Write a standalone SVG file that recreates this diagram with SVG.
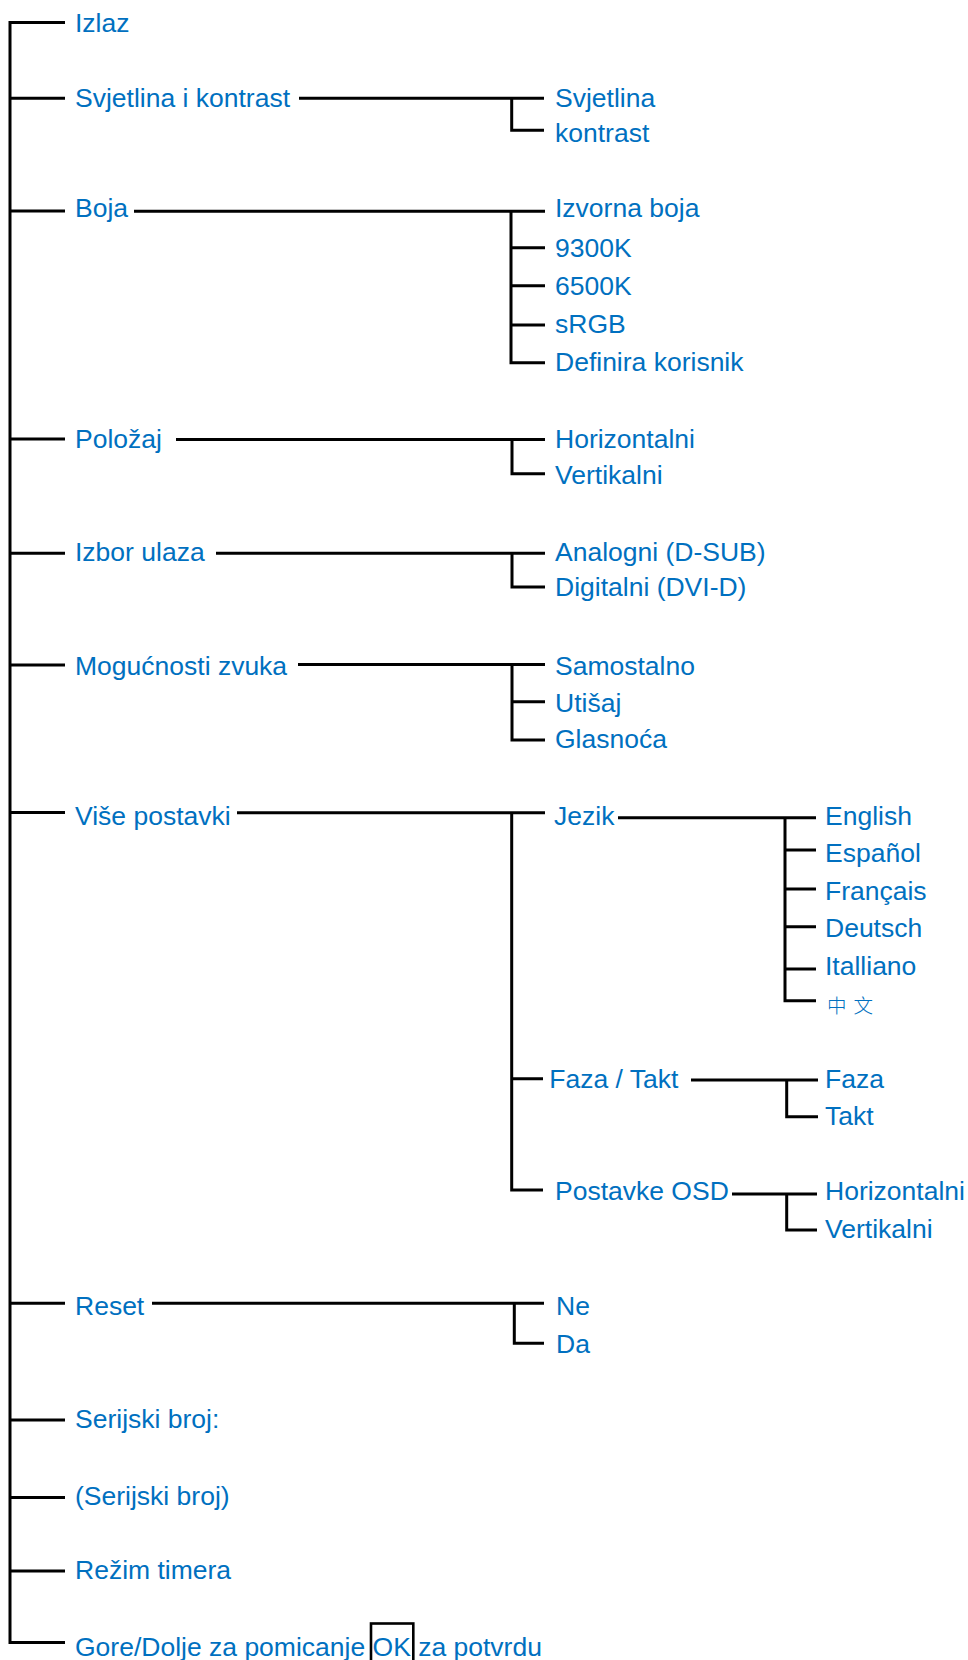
<svg xmlns="http://www.w3.org/2000/svg" width="968" height="1660" viewBox="0 0 968 1660">
<style>
.c{fill:none;stroke:#000;stroke-width:3;stroke-linejoin:miter;stroke-linecap:butt}
text{font-family:"Liberation Sans",Arial,sans-serif;font-size:26.5px;fill:#0070C0}
.cjk{font-family:"Noto Sans CJK SC",sans-serif;font-size:19.5px;letter-spacing:7px;font-weight:300}
</style>
<rect width="968" height="1660" fill="#fff"/>
<g id="connectors">
<path class="c" d="M65,22.5 H10 V1642.5 H65"/>
<path class="c" d="M10,98.3 H65 M10,211 H65 M10,439 H65 M10,553.3 H65 M10,665 H65 M10,812.5 H65 M10,1303.3 H65 M10,1420 H65 M10,1497.5 H65 M10,1571 H65"/>
<path class="c" d="M299,98.3 H544 M511.7,98.3 V130.3 H544"/>
<path class="c" d="M134,211.3 H545 M511,211.3 V362.7 H545 M511,247.7 H545 M511,285.7 H545 M511,325 H545"/>
<path class="c" d="M176,439.5 H545 M512,439.5 V473.7 H545"/>
<path class="c" d="M216,553.3 H545 M512,553.3 V587 H545"/>
<path class="c" d="M298,664.5 H545 M512,664.5 V740 H545 M512,701.7 H545"/>
<path class="c" d="M237,812.8 H545 M511.7,812.8 V1190 H543 M511.7,1078.7 H543"/>
<path class="c" d="M618,817.7 H816 M785,817.7 V1000.7 H816 M785,850 H816 M785,889 H816 M785,926.7 H816 M785,969 H816"/>
<path class="c" d="M691,1080 H818 M786.7,1080 V1116.7 H818"/>
<path class="c" d="M732,1194 H817 M786.7,1194 V1230 H817"/>
<path class="c" d="M152,1303.3 H544 M514.3,1303.3 V1343.3 H544"/>
</g>
<g id="n-izlaz"><text x="75" y="32">Izlaz</text></g>
<g id="n-svjetlina-kontrast"><text x="75" y="107">Svjetlina i kontrast</text></g>
<g id="n-svjetlina"><text x="555" y="106.7">Svjetlina</text></g>
<g id="n-kontrast"><text x="555" y="142">kontrast</text></g>
<g id="n-boja"><text x="75" y="217">Boja</text></g>
<g id="n-izvorna"><text x="555" y="216.5">Izvorna boja</text></g>
<g id="n-9300"><text x="555" y="256.7">9300K</text></g>
<g id="n-6500"><text x="555" y="295">6500K</text></g>
<g id="n-srgb"><text x="555" y="333.3">sRGB</text></g>
<g id="n-definira"><text x="555" y="370.7">Definira korisnik</text></g>
<g id="n-polozaj"><text x="75" y="448.3">Položaj</text></g>
<g id="n-horiz1"><text x="555" y="448.3">Horizontalni</text></g>
<g id="n-vert1"><text x="555" y="484">Vertikalni</text></g>
<g id="n-izbor"><text x="75" y="561">Izbor ulaza</text></g>
<g id="n-analogni"><text x="555" y="560.5">Analogni (D-SUB)</text></g>
<g id="n-digitalni"><text x="555" y="595.7">Digitalni (DVI-D)</text></g>
<g id="n-mogucnosti"><text x="75" y="675">Mogućnosti zvuka</text></g>
<g id="n-samostalno"><text x="555" y="675">Samostalno</text></g>
<g id="n-utisaj"><text x="555" y="711.7">Utišaj</text></g>
<g id="n-glasnoca"><text x="555" y="748.3">Glasnoća</text></g>
<g id="n-vise"><text x="75" y="825">Više postavki</text></g>
<g id="n-jezik"><text x="554" y="825">Jezik</text></g>
<g id="n-english"><text x="825" y="825">English</text></g>
<g id="n-espanol"><text x="825" y="861.7">Español</text></g>
<g id="n-francais"><text x="825" y="900">Français</text></g>
<g id="n-deutsch"><text x="825" y="936.7">Deutsch</text></g>
<g id="n-italliano"><text x="825" y="975">Italliano</text></g>
<g id="n-chinese"><text class="cjk" x="827" y="1013">中文</text></g>
<g id="n-fazatakt"><text x="549.3" y="1088.3">Faza / Takt</text></g>
<g id="n-faza"><text x="825" y="1088.3">Faza</text></g>
<g id="n-takt"><text x="825" y="1125">Takt</text></g>
<g id="n-osd"><text x="555" y="1200">Postavke OSD</text></g>
<g id="n-horiz2"><text x="825" y="1200">Horizontalni</text></g>
<g id="n-vert2"><text x="825" y="1238.3">Vertikalni</text></g>
<g id="n-reset"><text x="75" y="1315">Reset</text></g>
<g id="n-ne"><text x="556" y="1315">Ne</text></g>
<g id="n-da"><text x="556" y="1353.3">Da</text></g>
<g id="n-serijski"><text x="75" y="1428.3">Serijski broj:</text></g>
<g id="n-serijski2"><text x="75" y="1505">(Serijski broj)</text></g>
<g id="n-rezim"><text x="75" y="1579.3">Režim timera</text></g>
<g id="n-gore"><text x="75" y="1656">Gore/Dolje za pomicanje OK za potvrdu</text>
<rect x="371" y="1623.5" width="42.3" height="40" fill="none" stroke="#000" stroke-width="2.6"/></g>
</svg>
